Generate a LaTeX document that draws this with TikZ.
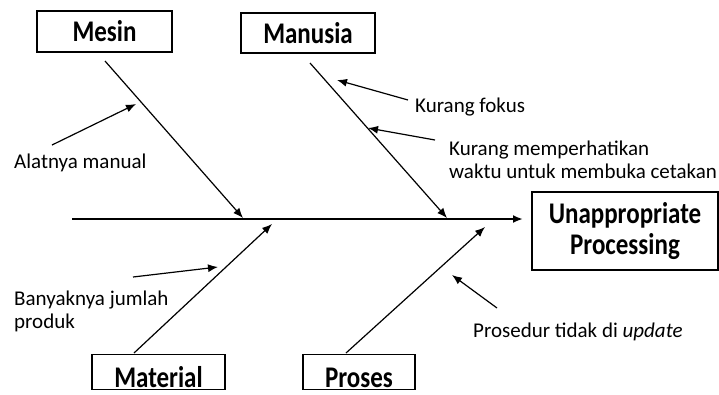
\documentclass[tikz,border=0pt]{standalone}
\usepackage{fontspec}
\usepackage{graphicx}
\setmainfont{Carlito}
\usetikzlibrary{arrows.meta}

\newcommand{\tallbold}[1]{\scalebox{1}[1.2]{#1}} % box labels are drawn taller

\tikzset{
  >={Latex[length=10pt,width=8pt]},
  causebox/.style={draw, line width=1.4pt, inner sep=0pt,
    font=\fontsize{25}{31}\selectfont\bfseries},
  note/.style={inner sep=0pt, align=left, anchor=base west,
    font=\fontsize{21}{22.5}\selectfont},
  bone/.style={line width=1.2pt, ->},
  spine/.style={line width=2.4pt, ->},
}

\begin{document}
\begin{tikzpicture}[x=1pt, y=-1pt]

    \useasboundingbox (0,0) rectangle (719,394); % page size

    % cause boxes
    \node[causebox, minimum width=135pt, minimum height=41pt] (mesin) at (104.5,31.5) {\tallbold{Mesin}};
    \node[causebox, minimum width=134pt, minimum height=40pt] (manusia) at (308,33) {\tallbold{Manusia}};
    \node[causebox, minimum width=133pt, text height=33pt, text depth=2pt, anchor=south]
    	(material) at (158.5,390) {\tallbold{Material}};
    \node[causebox, minimum width=112pt, text height=33pt, text depth=2pt, anchor=south]
    	(proses) at (359,390) {\tallbold{Proses}};

    % effect box
    \node[causebox, minimum width=186pt, minimum height=78pt, align=center]
    	(effect) at (625,231) {\tallbold{Unappropriate}\\\tallbold{Processing}};

    % spine
    \coordinate (spine-start) at (72,219);
    \coordinate (spine-end) at (523,219);
    \draw[spine] (spine-start) -- (spine-end);

    % bones
    \coordinate (mesin-tail) at (105,61);
    \coordinate (mesin-head) at (243,218);
    \coordinate (manusia-tail) at (310,63);
    \coordinate (manusia-head) at (447,218);
    \coordinate (material-tail) at (134,353);
    \coordinate (material-head) at (272,224);
    \coordinate (proses-tail) at (346,353);
    \coordinate (proses-head) at (485,227);

    \draw[bone] (mesin-tail) -- (mesin-head);
    \draw[bone] (manusia-tail) -- (manusia-head);
    \draw[bone] (material-tail) -- (material-head);
    \draw[bone] (proses-tail) -- (proses-head);

    % sub causes (base of a two line note is its last line)
    \node[note] (alat) at (14,168) {Alatnya manual};
    \node[note] (fokus) at (415,112) {Kurang fokus};
    \node[note] (waktu) at (449,178) {Kurang memperhatikan\\waktu untuk membuka cetakan};
    \node[note] (banyak) at (14,328) {Banyaknya jumlah\\produk};
    \node[note] (prosedur) at (473,337) {Prosedur tidak di \textit{update}};

    \coordinate (alat-from) at (52,145);
    \coordinate (alat-to) at (136,104);
    \coordinate (fokus-from) at (408,100);
    \coordinate (fokus-to) at (337,80);
    \coordinate (waktu-from) at (435,140);
    \coordinate (waktu-to) at (368,128);
    \coordinate (banyak-from) at (133,277);
    \coordinate (banyak-to) at (218,267);
    \coordinate (prosedur-from) at (497,308);
    \coordinate (prosedur-to) at (452,275);

    \draw[bone] (alat-from) -- (alat-to);
    \draw[bone] (fokus-from) -- (fokus-to);
    \draw[bone] (waktu-from) -- (waktu-to);
    \draw[bone] (banyak-from) -- (banyak-to);
    \draw[bone] (prosedur-from) -- (prosedur-to);

\end{tikzpicture}
\end{document}
